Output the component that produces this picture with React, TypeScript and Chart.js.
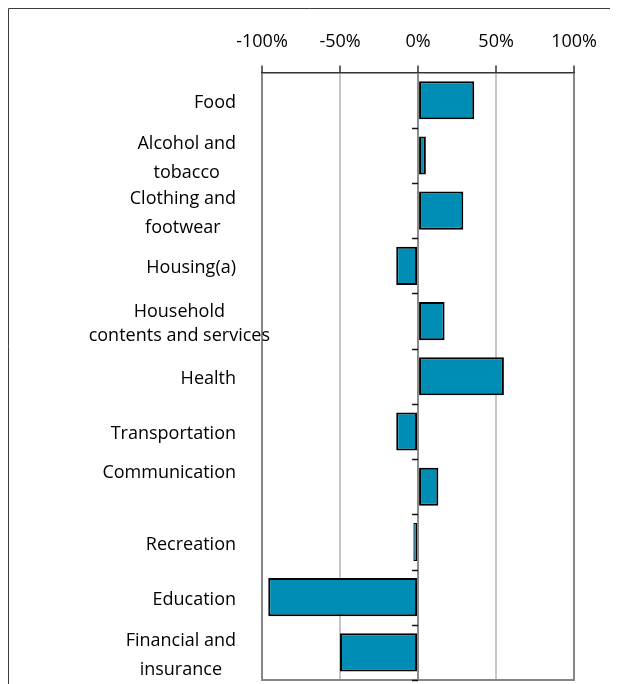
import React, { useEffect, useRef } from 'react';
import { Chart, registerables } from 'chart.js';

Chart.register(...registerables);

const categories: string[][] = [
  ['Food'],
  ['Alcohol and', 'tobacco'],
  ['Clothing and', 'footwear'],
  ['Housing(a)'],
  ['Household', 'contents and services'],
  ['Health'],
  ['Transportation'],
  ['Communication'],
  ['Recreation'],
  ['Education'],
  ['Financial and', 'insurance'],
];

const changes: number[] = [36, 5, 29, -14, 17, 55, -14, 13, -3, -96, -50];

const xTickValues: number[] = [-100, -50, 0, 50, 100];

const FONT = "'Open Sans', 'DejaVu Sans', sans-serif";

const framePlugin = {
  id: 'outerFrame',
  beforeDraw(chart: any) {
    const ctx = chart.ctx;
    ctx.save();
    ctx.strokeStyle = '#3c3c3c';
    ctx.lineWidth = 1;
    ctx.beginPath();
    ctx.moveTo(0.5, chart.height);
    ctx.lineTo(0.5, 0.5);
    ctx.lineTo(chart.width, 0.5);
    ctx.stroke();
    ctx.restore();
  },
};

const categoryLabelPlugin = {
  id: 'categoryLabels',
  afterDraw(chart: any, _args: any, opts: any) {
    const ctx = chart.ctx;
    const yScale = chart.scales.y;
    const xScale = chart.scales.x;
    const labels: string[][] = chart.data.labels;
    ctx.save();
    ctx.font = `${opts.size}px ${FONT}`;
    ctx.fillStyle = opts.color;
    ctx.textAlign = 'center';
    ctx.textBaseline = 'middle';
    labels.forEach((lines, i) => {
      const nudge = (opts.nudges && opts.nudges[i]) || {};
      const lh = nudge.lh || opts.lineHeight;
      const widest = Math.max(...lines.map((l) => ctx.measureText(l).width));
      const cx = opts.blockRight + (nudge.dx || 0) - widest / 2;
      const cy = yScale.getPixelForValue(i) + opts.offsetY + (nudge.dy || 0);
      const top = cy - ((lines.length - 1) * lh) / 2;
      lines.forEach((line, j) => {
        ctx.fillText(line, cx, top + j * lh);
      });
    });
    const x0 = xScale.getPixelForValue(0);
    ctx.strokeStyle = '#111';
    ctx.lineWidth = 1.5;
    const n = labels.length;
    for (let i = 1; i <= n; i++) {
      const yy = i < n
        ? (yScale.getPixelForValue(i - 1) + yScale.getPixelForValue(i)) / 2
        : chart.chartArea.bottom;
      ctx.beginPath();
      ctx.moveTo(x0 - 6, Math.round(yy) + 0.5);
      ctx.lineTo(x0, Math.round(yy) + 0.5);
      ctx.stroke();
    }
    ctx.restore();
  },
};

export default function App() {
  const canvasRef = useRef<HTMLCanvasElement | null>(null);

  useEffect(() => {
    document.documentElement.style.overflow = 'hidden';
    document.body.style.overflow = 'hidden';
    if (!canvasRef.current) return;
    const chart = new Chart(canvasRef.current, {
      type: 'bar',
      data: {
        labels: categories as any,
        datasets: [
          {
            data: changes,
            xAxisID: 'x',
            yAxisID: 'y',
            backgroundColor: '#008db5',
            borderColor: '#000000',
            borderWidth: (c: any) => (Math.abs(c.raw ?? 10) < 5 ? 1.2 : 2),
            borderSkipped: false,
            categoryPercentage: 1,
            barPercentage: 0.69,
          } as any,
        ],
      },
      options: {
        indexAxis: 'y',
        responsive: false,
        animation: false,
        devicePixelRatio: 1,
        layout: { padding: { left: 254, right: 34, top: 10, bottom: 4 } },
        plugins: {
          legend: { display: false },
          tooltip: { enabled: false },
          categoryLabels: {
            size: 18,
            color: '#000',
            lineHeight: 29,
            blockRight: 228,
            offsetY: 2.5,
            nudges: {
              4: { dx: 34, dy: 0, lh: 24 },
              7: { dx: 0, dy: -16 },
            },
          },
        } as any,
        scales: {
          x: {
            type: 'linear',
            position: 'top',
            min: -100,
            max: 100,
            afterBuildTicks: (scale: any) => {
              scale.ticks = xTickValues.map((v) => ({ value: v }));
            },
            ticks: {
              padding: 13,
              color: '#000',
              font: { family: FONT, size: 18 },
              callback: (v: any) => `${v}%`,
            },
            grid: {
              color: (c: any) => {
                const v = c.tick ? c.tick.value : null;
                if (v === -100 || v === 100) return '#868686';
                if (v === 0) return '#8c8c8c';
                return '#c6c6c6';
              },
              lineWidth: 2,
              tickColor: '#333333',
              tickLength: 7,
              tickWidth: 1.5,
            },
            border: { display: true, color: '#333333', width: 1.5 },
          } as any,
          x2: {
            type: 'linear',
            position: 'bottom',
            min: -100,
            max: 100,
            ticks: { display: false },
            grid: { display: false, drawTicks: false },
            border: { display: true, color: '#868686', width: 2 },
          } as any,
          y: {
            type: 'category',
            display: false,
            offset: true,
          },
        },
      },
      plugins: [framePlugin as any, categoryLabelPlugin as any],
    });
    return () => {
      chart.destroy();
    };
  }, []);

  return (
    <canvas
      ref={canvasRef}
      width={602}
      height={676}
      style={{ display: 'block', width: 602, height: 676 }}
    />
  );
}
